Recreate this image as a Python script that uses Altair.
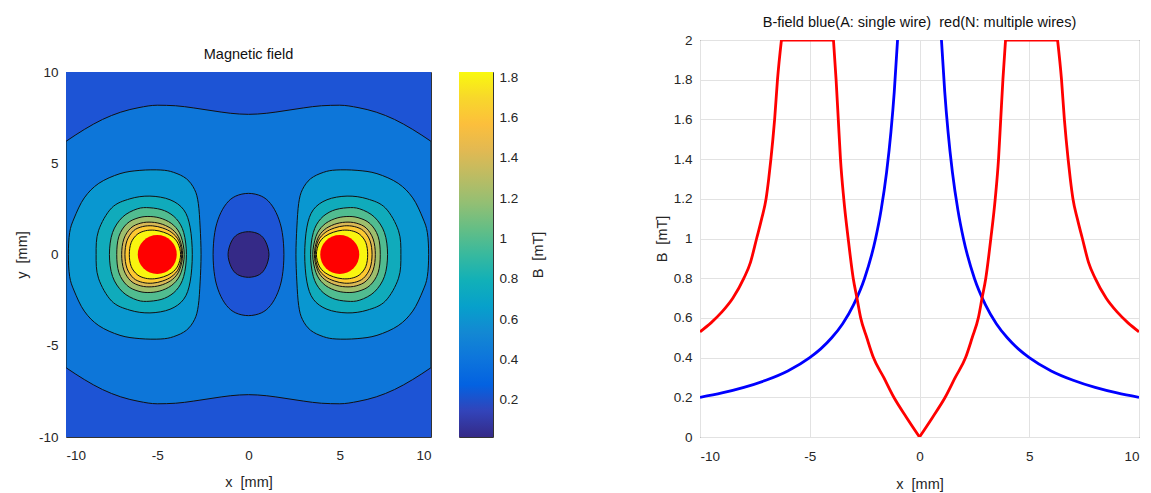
import altair as alt
import pandas as pd

FONT = "Liberation Sans"

# ---------------- data ----------------
XY_DOMAIN = [-10, 10]
AXIS_TICKS = [-10, -5, 0, 5, 10]
B_DOMAIN = [0, 2]
B_TICKS = [0, 0.2, 0.4, 0.6, 0.8, 1, 1.2, 1.4, 1.6, 1.8, 2]
CB_DOMAIN = [0.016, 1.825]
CB_TICKS = [0.2, 0.4, 0.6, 0.8, 1, 1.2, 1.4, 1.6, 1.8]

WIRE_X = [-5, 5]
WIRE_Y = [0, 0]

# 0.4 mT contour limiting the central band (upper edge, x from -10 to 0)
BAND_TOP_X = [-10, -9, -8, -7, -6, -5, -4, -3, -2, -1, 0]
BAND_TOP_Y = [6.2, 6.85, 7.4, 7.8, 8.05, 8.18, 8.15, 8.03, 7.88, 7.74, 7.68]

# contours around the centre (first quadrant, top -> right)
CENTER_04_X = [0, 0.7, 1.2, 1.6, 1.85, 1.94]
CENTER_04_Y = [3.35, 3.2, 2.8, 2.1, 1.2, 0]
CENTER_02_X = [0, 0.6, 0.95, 1.12]
CENTER_02_Y = [1.25, 1.1, 0.68, 0]

# contours around the left wire (upper half, left -> right)
WIRE_LEVELS = [0.6, 0.8, 1.0, 1.2, 1.4, 1.6, 1.8]
WIRE_CX = {
    0.6: [-9.87, -9.8, -9.55, -9.0, -8.2, -7.04, -5.95, -4.8, -4.1, -3.4, -2.95, -2.75, -2.65, -2.6],
    0.8: [-8.35, -8.22, -7.5, -6.5, -5.4, -4.3, -3.55, -3.2, -3.08],
    1.0: [-7.62, -7.45, -6.9, -6.1, -5.4, -4.6, -3.95, -3.55, -3.4],
    1.2: [-7.22, -7.1, -6.65, -6.0, -5.35, -4.7, -4.1, -3.7, -3.52],
    1.4: [-6.95, -6.83, -6.45, -5.9, -5.3, -4.7, -4.15, -3.78, -3.61],
    1.6: [-6.77, -6.66, -6.3, -5.8, -5.25, -4.7, -4.2, -3.82, -3.66],
    1.8: [-6.53, -6.43, -6.1, -5.65, -5.15, -4.65, -4.2, -3.87, -3.72],
}
WIRE_CY = {
    0.6: [0, 1.2, 2.0, 3.1, 3.9, 4.43, 4.61, 4.63, 4.5, 4.15, 3.55, 2.8, 1.5, 0],
    0.8: [0, 1.3, 2.55, 3.05, 3.2, 3.0, 2.45, 1.5, 0],
    1.0: [0, 1.2, 2.05, 2.5, 2.56, 2.4, 1.95, 1.2, 0],
    1.2: [0, 1.0, 1.7, 2.02, 2.08, 1.95, 1.6, 1.0, 0],
    1.4: [0, 0.85, 1.45, 1.72, 1.77, 1.65, 1.35, 0.85, 0],
    1.6: [0, 0.75, 1.3, 1.53, 1.57, 1.45, 1.2, 0.75, 0],
    1.8: [0, 0.65, 1.1, 1.3, 1.33, 1.22, 1.0, 0.62, 0],
}

# line plot (left half, x <= 0; the picture is mirror-symmetric)
BLUE_X = [-10, -9, -8, -7, -6, -5, -4.5, -4, -3.5, -3, -2.5, -2, -1.75, -1.5, -1.3, -1.15, -1.0]
BLUE_B = [0.2, 0.222, 0.25, 0.286, 0.333, 0.4, 0.444, 0.5, 0.571, 0.667, 0.8, 1.0, 1.143, 1.333, 1.538, 1.739, 2.0]
# red: outer flank, plateau, inner flank (down to the centre)
RED_OUT_X = [-10, -9.5, -9, -8.5, -8, -7.7, -7.42, -7.19, -6.99, -6.87, -6.77, -6.68, -6.6, -6.47, -6.29]
RED_OUT_B = [0.53, 0.575, 0.63, 0.7, 0.8, 0.88, 1.0, 1.1, 1.2, 1.3, 1.4, 1.5, 1.6, 1.8, 2.0]
RED_TOP_X = [-6.29, -3.92]
RED_TOP_B = [2.0, 2.0]
RED_IN_X = [-3.92, -3.8, -3.7, -3.6, -3.45, -3.25, -3.02, -2.85, -2.68, -2.4, -2.1, -1.63, -1.17, -0.6, 0]
RED_IN_B = [2.0, 1.8, 1.6, 1.4, 1.2, 1.0, 0.8, 0.7, 0.6, 0.5, 0.4, 0.3, 0.2, 0.1, 0.0]

# ---------------- styles ----------------
FILL_LOW = "#352a87"      # below 0.2
FILL_02 = "#1d54d5"       # 0.2 - 0.4
FILL_04 = "#0d76d9"       # 0.4 - 0.6
WIRE_FILL = {0.6: "#0997d0", 0.8: "#10abbb", 1.0: "#51bc90", 1.2: "#9ebe6d",
             1.4: "#dab955", 1.6: "#fdc931", 1.8: "#f9f50f"}
LINE_C = "#111111"
PARULA = ["#352a87", "#3244ba", "#0362e1", "#0d75dc", "#1388d3", "#07a0cb", "#11b0b8",
          "#38b99e", "#65be85", "#94bf73", "#bcbc63", "#e2b952", "#fcbf3c", "#f8d72b", "#f9f90e"]


def closed_from_upper(xs, ys):
    pts = list(zip(xs, ys))
    lower = [(x, -y) for x, y in reversed(pts)][1:-1]
    return pts + lower


def closed_from_quadrant(xs, ys):
    q = list(zip(xs, ys))
    right = q + [(x, -y) for x, y in reversed(q)][1:]
    left = [(-x, y) for x, y in reversed(right)][1:-1]
    return right + left


def shapes_df(shapes):
    rows = []
    for sid, pts in enumerate(shapes):
        for i, (x, y) in enumerate(pts):
            rows.append({"s": sid, "i": i, "x": x, "y": y})
    return pd.DataFrame(rows)


W1, H1 = 365, 365
xsc = alt.Scale(domain=XY_DOMAIN, nice=False, zero=False)
ysc = alt.Scale(domain=XY_DOMAIN, nice=False, zero=False)
lab = "toString(datum.value)"
x_axis_l = alt.Axis(values=AXIS_TICKS, title="x\u00a0\u00a0[mm]", labelExpr=lab, labelPadding=11, titlePadding=14)
y_axis_l = alt.Axis(values=AXIS_TICKS, title="y\u00a0\u00a0[mm]", labelExpr=lab, labelPadding=8, titlePadding=9)


def X(field):
    return alt.X(field, scale=xsc, axis=x_axis_l)


def Y(field):
    return alt.Y(field, scale=ysc, axis=y_axis_l)


bg = alt.Chart(pd.DataFrame({"x": [XY_DOMAIN[0]], "x2": [XY_DOMAIN[1]],
                             "y": [XY_DOMAIN[0]], "y2": [XY_DOMAIN[1]]})).mark_rect(
    fill=FILL_02, strokeWidth=0).encode(x=X("x:Q"), x2="x2", y=Y("y:Q"), y2="y2")

band_x = BAND_TOP_X + [-v for v in reversed(BAND_TOP_X[:-1])]
band_y = BAND_TOP_Y + list(reversed(BAND_TOP_Y[:-1]))
band_df = pd.DataFrame({"x": band_x, "yt": band_y, "yb": [-v for v in band_y]})
band = alt.Chart(band_df).mark_area(interpolate="monotone", stroke=LINE_C, strokeWidth=1, clip=True).encode(
    x=X("x:Q"), y=Y("yt:Q"), y2="yb", fill=alt.value(FILL_04))


def poly_layer(shapes, fill):
    return alt.Chart(shapes_df(shapes)).mark_line(
        interpolate="cardinal-closed", stroke=LINE_C, strokeWidth=1, clip=True).encode(
        x=X("x:Q"), y=Y("y:Q"), order="i:Q", detail="s:N", fill=alt.value(fill))


layers = [bg, band,
          poly_layer([closed_from_quadrant(CENTER_04_X, CENTER_04_Y)], FILL_02),
          poly_layer([closed_from_quadrant(CENTER_02_X, CENTER_02_Y)], FILL_LOW)]
for lev in WIRE_LEVELS:
    left_pts = closed_from_upper(WIRE_CX[lev], WIRE_CY[lev])
    right_pts = [(-x, y) for x, y in left_pts]
    layers.append(poly_layer([left_pts, right_pts], WIRE_FILL[lev]))

disks = alt.Chart(pd.DataFrame({"x": WIRE_X, "y": WIRE_Y})).mark_circle(
    color="#ff0000", opacity=1, size=1520).encode(x=X("x:Q"), y=Y("y:Q"))
layers.append(disks)

left = alt.layer(*layers).properties(
    width=W1, height=H1,
    title=alt.TitleParams(text="Magnetic field", frame="group"))

# ---------------- colorbar ----------------
grad = alt.Gradient(gradient="linear", x1=0, x2=0, y1=1, y2=0,
                    stops=[alt.GradientStop(color=c, offset=i / (len(PARULA) - 1)) for i, c in enumerate(PARULA)])
cbar = alt.Chart(pd.DataFrame({"lo": [CB_DOMAIN[0]], "hi": [CB_DOMAIN[1]]})).mark_rect(fill=grad).encode(
    x=alt.value(0), x2=alt.value("width"),
    y=alt.Y("lo:Q", scale=alt.Scale(domain=CB_DOMAIN, nice=False, zero=False),
            axis=alt.Axis(orient="right", values=CB_TICKS, labelExpr=lab, title="B\u00a0\u00a0[mT]",
                          titleAngle=270, labelPadding=6, titlePadding=28)),
    y2="hi:Q").properties(width=34, height=H1)

spacer = alt.Chart(pd.DataFrame({"a": [0]})).mark_point(opacity=0).properties(
    width=1, height=4, view=alt.ViewBackground(stroke="transparent"))

left_cell = alt.vconcat(spacer, alt.hconcat(left, cbar, spacing=26), spacing=0)

# ---------------- line plot ----------------
def mirror(xs, vs):
    return [-v for v in reversed(xs)], list(reversed(vs))


blue_rows = []
bxr, bbr = mirror(BLUE_X, BLUE_B)
for seg, (xs, bs) in enumerate([(BLUE_X, BLUE_B), (bxr, bbr)]):
    for i, (x, b) in enumerate(zip(xs, bs)):
        blue_rows.append({"x": x, "b": b, "seg": seg, "i": i})
blue_df = pd.DataFrame(blue_rows)

red_segments = [(RED_OUT_X, RED_OUT_B), (RED_TOP_X, RED_TOP_B), (RED_IN_X, RED_IN_B)]
red_segments += [mirror(xs, bs) for xs, bs in red_segments]
red_rows = []
for seg, (xs, bs) in enumerate(red_segments):
    for i, (x, b) in enumerate(zip(xs, bs)):
        red_rows.append({"x": x, "b": b, "seg": seg, "i": i})
red_df = pd.DataFrame(red_rows)

xsc2 = alt.Scale(domain=XY_DOMAIN, nice=False, zero=False)
ysc2 = alt.Scale(domain=B_DOMAIN, nice=False, zero=False)
x_axis_r = alt.Axis(values=AXIS_TICKS, title="x\u00a0\u00a0[mm]", labelExpr=lab, grid=True, labelPadding=12, titlePadding=15)
y_axis_r = alt.Axis(values=B_TICKS, title="B\u00a0\u00a0[mT]", labelExpr=lab, grid=True, labelPadding=8, titlePadding=4)

blue = alt.Chart(blue_df).mark_line(color="#0000ff", strokeWidth=2.8, clip=True, interpolate="monotone").encode(
    x=alt.X("x:Q", scale=xsc2, axis=x_axis_r), y=alt.Y("b:Q", scale=ysc2, axis=y_axis_r),
    detail="seg:N", order="i:Q")
red = alt.Chart(red_df).mark_line(color="#ff0000", strokeWidth=2.8, clip=True, interpolate="monotone").encode(
    x=alt.X("x:Q", scale=xsc2, axis=x_axis_r), y=alt.Y("b:Q", scale=ysc2, axis=y_axis_r),
    detail="seg:N", order="i:Q")
right = alt.layer(blue, red).properties(
    width=439, height=397,
    title=alt.TitleParams(text="B-field blue(A: single wire)\u00a0\u00a0red(N: multiple wires)", frame="group"))

chart = alt.hconcat(left_cell, right, spacing=107).properties(
    padding={"left": 13, "top": 14, "right": 5, "bottom": 5},
    background="#ffffff",
).configure_view(stroke="#333333", strokeWidth=1).configure_axis(
    labelFont=FONT, titleFont=FONT, labelFontSize=13.5, titleFontSize=14.5,
    labelColor="#262626", titleColor="#262626", titleFontWeight="normal",
    tickSize=0, domain=False, grid=False, gridColor="#e2e2e2", gridWidth=1,
).configure_title(font=FONT, fontSize=14.5, fontWeight="normal", color="#111111", offset=3)

chart.save("out.html", embed_options={"renderer": "svg", "actions": False})
